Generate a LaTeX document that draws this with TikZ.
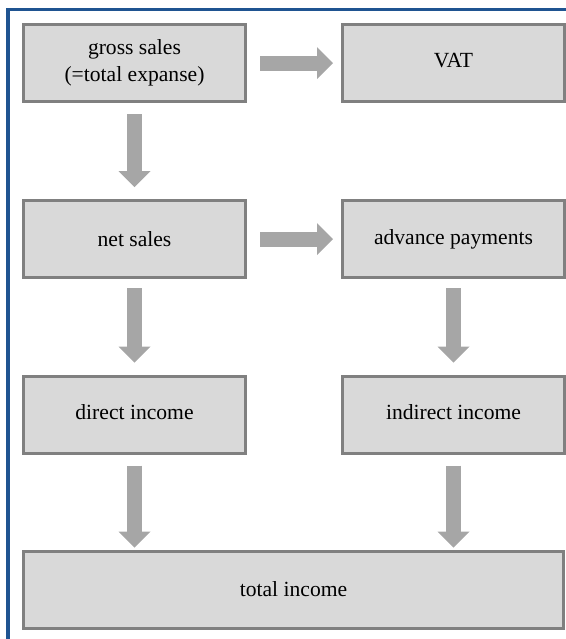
\documentclass[tikz,border=0pt]{standalone}
\usepackage{fontspec}
\setmainfont{Liberation Serif}
\newfontfamily\stagefont{Liberation Serif}
\usetikzlibrary{arrows.meta,positioning}
\definecolor{frameblue}{RGB}{31,84,145}
\definecolor{boxgray}{RGB}{217,217,217}
\definecolor{edgegray}{RGB}{128,128,128}
\definecolor{arrowgray}{RGB}{166,166,166}

\begin{document}
\begin{tikzpicture}[x=0.5pt,y=-0.5pt,
    stage/.style={draw=edgegray, line width=1.5pt, fill=boxgray,
      minimum width=111pt, minimum height=38.5pt, align=center,
      font=\stagefont\fontsize{10.8}{13.5}\selectfont},
    flow/.style={draw=arrowgray, line width=7.5pt,
      -{Triangle[width=16pt,length=8pt,line width=0pt]},
      shorten <=5.5pt, shorten >=6pt}]
                \useasboundingbox (0,0) rectangle (566,639);

                % Frame
                \draw[frameblue, line width=1.5pt] (620,9) -- (8,9) -- (8,700);

                % Stages
                \node[stage] (gross) at (134.5,63) {gross sales\\(=total expanse)};
                \node[stage] (vat) at (453.5,63) {\raisebox{3pt}{VAT}};
                \node[stage] (net) at (134.5,239) {net sales};
                \node[stage] (advance) at (453.5,239) {advance payments};
                \node[stage] (direct) at (134.5,414.5) {\raisebox{3pt}{direct income}};
                \node[stage] (indirect) at (453.5,414.5) {\raisebox{3pt}{indirect income}};
                \node[stage, minimum width=270pt] (total) at (293.5,589.5) {total income};

                % Arrows
                \draw[flow, shorten <=6.5pt, shorten >=4pt] (gross) -- (vat);
                \draw[flow, shorten <=6.5pt, shorten >=4pt] (net) -- (advance);
                \draw[flow] (gross) -- (net);
                \draw[flow, shorten <=4.5pt] (net) -- (direct);
                \draw[flow, shorten <=4.5pt] (advance) -- (indirect);
                \draw[flow, shorten >=1pt] (direct) -- (direct |- total.north);
                \draw[flow, shorten >=1pt] (indirect) -- (indirect |- total.north);
            \end{tikzpicture}
\end{document}
